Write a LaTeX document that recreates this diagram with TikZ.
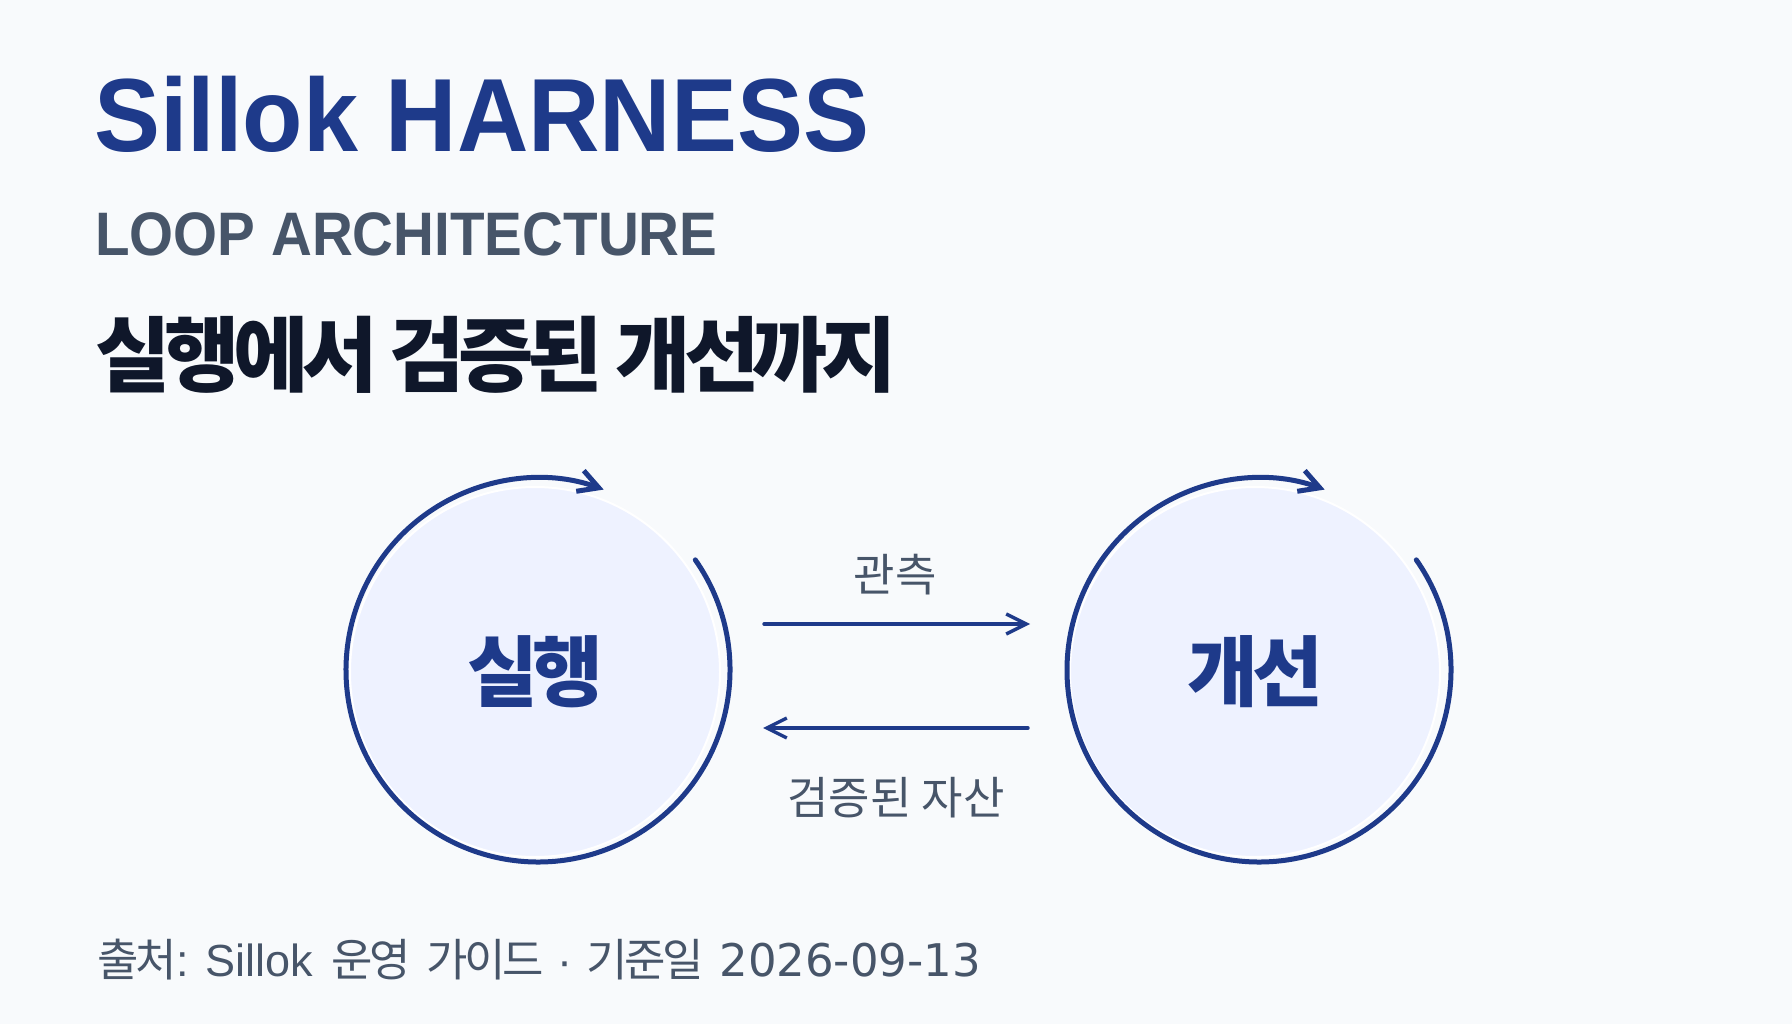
\documentclass[tikz,border=0pt]{standalone}
\usepackage{fontspec}
\usetikzlibrary{arrows.meta,calc}
\setmainfont{Liberation Sans}
\newfontfamily\titlefont[FakeStretch=0.951]{Liberation Sans}
\newfontfamily\subfont[FakeStretch=0.921]{Liberation Sans}
\newfontfamily\datefont{DejaVu Sans}
\newfontfamily\cjk{Noto Sans CJK KR}
\newfontfamily\cjkhead[LetterSpace=-8]{Noto Sans CJK KR}
\definecolor{harnessblue}{HTML}{1E3A8A}
\definecolor{harnessgray}{HTML}{475569}
\definecolor{harnessink}{HTML}{0F172A}
\definecolor{harnessbg}{HTML}{F8FAFC}
\definecolor{harnessfill}{HTML}{EEF2FF}

\begin{document}
\begin{tikzpicture}[x=0.5pt, y=0.5pt,
	stage/.style={circle, fill=harnessfill, draw=white, line width=1pt, minimum size=185pt, inner sep=0pt,
		text=harnessblue, font=\cjkhead\bfseries\fontsize{38.5}{42}\selectfont},
	cycle/.style={harnessblue, line width=2.5pt, line cap=round, -{Straight Barb[length=10pt, width=11pt]}},
	flow/.style={harnessblue, line width=1.7pt, line cap=round, -{Straight Barb[length=10pt, width=10pt]}},
	caption/.style={text=harnessgray, inner sep=0pt, font=\cjk\fontsize{22.5}{26}\selectfont}]
				% Background and page size
				\fill[harnessbg] (0,0) rectangle (1792,1024);
				
				% Titles
				\node[anchor=base west, inner sep=0pt, text=harnessblue, font=\titlefont\bfseries\fontsize{52}{60}\selectfont] (title) at (94,872) {Sillok HARNESS};
				\node[anchor=base west, inner sep=0pt, text=harnessgray, font=\subfont\bfseries\fontsize{30.7}{36}\selectfont] (subtitle) at (95,768) {LOOP ARCHITECTURE};
				\node[anchor=base west, inner sep=0pt, text=harnessink, font=\cjkhead\bfseries\fontsize{41}{48}\selectfont] (headline) at (95,638) {실행에서 검증된 개선까지};
				
				% Two stages
				\node[stage] (exec) at (535,352) {실행};
				\node[stage] (improve) at (1255,352) {개선};
				
				% Loop arcs around each stage
				\draw[cycle] ([shift={(3,2)}]exec.center) ++(35:192) arc[start angle=35, end angle=-290, radius=192];
				\draw[cycle] ([shift={(4,2)}]improve.center) ++(35:192) arc[start angle=35, end angle=-290, radius=192];
				
				% Connections between stages
				\draw[flow] ([shift={(43,48)}]exec.east) -- ([shift={(-39,48)}]improve.west);
				\draw[flow] ([shift={(-41,-56)}]improve.west) -- ([shift={(42,-56)}]exec.east);
				\node[caption] (observe) at (895,449) {관측};
				\node[caption] (assets) at (896,226) {검증된 자산};
				
				% Source line
				\node[anchor=base west, inner sep=0pt, text=harnessgray, font=\fontsize{22.5}{26}\selectfont] (source) at (97,48) {{\cjkhead 출처}: Sillok\hspace{9pt}{\cjkhead 운영\hspace{8pt}가이드}\hspace{7pt}·\hspace{7pt}{\cjkhead 기준일}\hspace{8pt}{\datefont 2026-09-13}};
			\end{tikzpicture}
\end{document}
